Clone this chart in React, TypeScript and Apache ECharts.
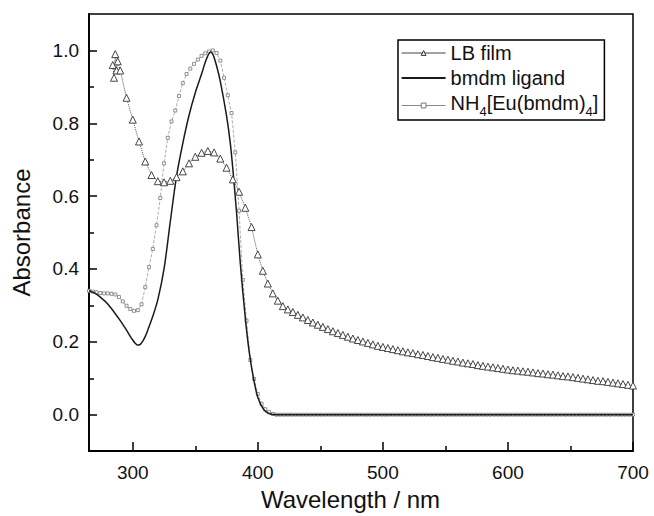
import React, { useEffect, useRef } from 'react';
import * as echarts from 'echarts';

const FONT = "'Liberation Sans', Arial, sans-serif";

const xTickLabels = [300, 400, 500, 600, 700];
const xMinorTicks = [350, 450, 550, 650];
const yTickLabels = [0, 0.2, 0.4, 0.6, 0.8, 1.0];
const yMinorTicks = [0.1, 0.3, 0.5, 0.7, 0.9];

const seriesNames = ['LB film', 'bmdm ligand', 'NH4[Eu(bmdm)4]'];

// LB film (triangles)
const lbFilm: [number, number][] = [
  [284, 0.96], [285, 0.925], [286, 0.99], [287, 0.945], [288, 0.97], [290, 0.945],
  [295, 0.87], [300, 0.81], [305, 0.75], [310, 0.695], [315, 0.658], [320, 0.641],
  [325, 0.638], [330, 0.642], [335, 0.652], [340, 0.668], [345, 0.69], [350, 0.708],
  [355, 0.719], [360, 0.724], [365, 0.72], [370, 0.703], [375, 0.678], [380, 0.646],
  [385, 0.612], [390, 0.568], [395, 0.515], [400, 0.44], [404, 0.395], [408, 0.36],
  [412, 0.333], [416, 0.313], [420, 0.298], [424, 0.289], [428, 0.282], [432, 0.274],
  [436, 0.267], [440, 0.26], [444, 0.253], [448, 0.247], [452, 0.241], [456, 0.235],
  [460, 0.229], [464, 0.224], [468, 0.219], [472, 0.214], [476, 0.209], [480, 0.205],
  [484, 0.201], [488, 0.197], [492, 0.193], [496, 0.189], [500, 0.186], [504, 0.183],
  [508, 0.18], [512, 0.177], [516, 0.174], [520, 0.171], [524, 0.169], [528, 0.166],
  [532, 0.164], [536, 0.161], [540, 0.158], [544, 0.156], [548, 0.153], [552, 0.151],
  [556, 0.148], [560, 0.146], [564, 0.143], [568, 0.141], [572, 0.139], [576, 0.136],
  [580, 0.134], [584, 0.132], [588, 0.13], [592, 0.128], [596, 0.126], [600, 0.124],
  [604, 0.122], [608, 0.121], [612, 0.119], [616, 0.118], [620, 0.116], [624, 0.114],
  [628, 0.113], [632, 0.111], [636, 0.11], [640, 0.108], [644, 0.106], [648, 0.105],
  [652, 0.103], [656, 0.101], [660, 0.099], [664, 0.097], [668, 0.095], [672, 0.093],
  [676, 0.092], [680, 0.09], [684, 0.088], [688, 0.086], [692, 0.084], [696, 0.082],
  [700, 0.08],
];

// bmdm ligand (solid line)
const ligand: [number, number][] = [
  [265, 0.34], [270, 0.333], [275, 0.32], [280, 0.304], [285, 0.282], [290, 0.258],
  [295, 0.232], [298, 0.215], [300, 0.205], [302, 0.196], [304, 0.191], [306, 0.193],
  [308, 0.202], [310, 0.215], [312, 0.232], [316, 0.27],
  [320, 0.315], [325, 0.4], [330, 0.53], [335, 0.655], [340, 0.745], [345, 0.822],
  [350, 0.884], [355, 0.935], [358, 0.968], [360, 0.985], [362, 0.996], [364, 0.99],
  [367, 0.958], [370, 0.915], [375, 0.82], [378, 0.745], [380, 0.675], [383, 0.555],
  [386, 0.415], [390, 0.265], [393, 0.175], [396, 0.11], [400, 0.047], [405, 0.013],
  [410, 0.002], [415, 0], [450, 0], [500, 0], [550, 0], [600, 0], [650, 0], [700, 0],
];

// NH4[Eu(bmdm)4] (small squares)
const complex: [number, number][] = [
  [265, 0.34], [268, 0.338], [271, 0.336], [274, 0.334], [277, 0.333], [280, 0.333],
  [283, 0.332], [286, 0.33], [289, 0.323], [292, 0.311], [295, 0.299], [298, 0.29],
  [301, 0.285], [304, 0.287], [307, 0.303], [310, 0.35], [313, 0.405], [316, 0.455],
  [319, 0.52], [322, 0.595], [325, 0.69], [328, 0.76], [331, 0.805], [334, 0.835],
  [337, 0.875], [340, 0.91], [343, 0.935], [346, 0.95], [349, 0.963], [352, 0.975],
  [355, 0.985], [358, 0.992], [361, 0.997], [364, 1.0], [367, 0.993], [370, 0.972],
  [373, 0.925], [376, 0.877], [379, 0.828], [382, 0.72], [385, 0.56], [388, 0.37],
  [391, 0.258], [394, 0.15], [397, 0.098], [400, 0.057], [403, 0.03], [406, 0.015],
  [409, 0.007], [412, 0.002], [415, 0], [418, 0], [421, 0], [424, 0], [427, 0],
  [430, 0], [433, 0], [436, 0], [439, 0], [442, 0], [445, 0], [448, 0], [451, 0],
  [454, 0], [457, 0], [460, 0], [463, 0], [466, 0], [469, 0], [472, 0], [475, 0],
  [478, 0], [481, 0], [484, 0], [487, 0], [490, 0], [493, 0], [496, 0], [499, 0],
  [502, 0], [505, 0], [508, 0], [511, 0], [514, 0], [517, 0], [520, 0], [523, 0],
  [526, 0], [529, 0], [532, 0], [535, 0], [538, 0], [541, 0], [544, 0], [547, 0],
  [550, 0], [553, 0], [556, 0], [559, 0], [562, 0], [565, 0], [568, 0], [571, 0],
  [574, 0], [577, 0], [580, 0], [583, 0], [586, 0], [589, 0], [592, 0], [595, 0],
  [598, 0], [601, 0], [604, 0], [607, 0], [610, 0], [613, 0], [616, 0], [619, 0],
  [622, 0], [625, 0], [628, 0], [631, 0], [634, 0], [637, 0], [640, 0], [643, 0],
  [646, 0], [649, 0], [652, 0], [655, 0], [658, 0], [661, 0], [664, 0], [667, 0],
  [670, 0], [673, 0], [676, 0], [679, 0], [682, 0], [685, 0], [688, 0], [691, 0],
  [694, 0], [697, 0], [700, 0],
];

export default function App() {
  const ref = useRef<HTMLDivElement>(null);

  useEffect(() => {
    if (!ref.current) return;
    const chart = echarts.init(ref.current, undefined, { renderer: 'svg' });
    const axisCommon = {
      type: 'value' as const,
      splitLine: { show: false },
    };
    chart.setOption({
      animation: false,
      backgroundColor: '#fff',
      textStyle: { fontFamily: FONT },
      grid: {
        left: 89, right: 21, top: 14, bottom: 57,
        show: true, borderColor: '#000', borderWidth: 1.5,
      },
      legend: {
        orient: 'vertical',
        left: 398,
        top: 40,
        itemWidth: 44,
        itemHeight: 6,
        itemGap: 5,
        padding: [3, 6, 2, 3],
        borderColor: '#000',
        borderWidth: 1.5,
        backgroundColor: '#fff',
        selectedMode: false,
        textStyle: {
          fontSize: 20,
          fontFamily: FONT,
          color: '#111',
          rich: {
            m: { fontSize: 20, fontFamily: FONT, color: '#111', verticalAlign: 'top' },
            s: { fontSize: 13, fontFamily: FONT, color: '#111', verticalAlign: 'top', padding: [12, 0, 0, 0] },
          },
        },
        formatter: (name: string) =>
          name === seriesNames[2] ? '{m|NH}{s|4}{m|[Eu(bmdm)}{s|4}{m|]}' : name,
        data: [
          {
            name: seriesNames[0],
            lineStyle: { type: 'solid', width: 1.2, color: '#444' },
            itemStyle: { color: '#fff', borderColor: '#333', borderWidth: 1 },
          },
          { name: seriesNames[1], icon: 'path://M0 0H44V2H0Z' },
          {
            name: seriesNames[2],
            lineStyle: { type: 'solid', width: 1.2, color: '#888' },
            itemStyle: { color: '#fff', borderColor: '#777', borderWidth: 1 },
          },
        ],
      },
      xAxis: [
        {
          ...axisCommon,
          min: 265,
          max: 700,
          position: 'bottom',
          name: 'Wavelength / nm',
          nameLocation: 'middle',
          nameGap: 29,
          nameTextStyle: { fontSize: 24, fontFamily: FONT, color: '#111', padding: [0, 21, 0, 0] },
          axisLine: { onZero: false, lineStyle: { color: '#000', width: 1.8 } },
          axisTick: { inside: true, length: 9, customValues: xTickLabels, lineStyle: { color: '#000', width: 1.5 } },
          axisLabel: { customValues: xTickLabels, margin: 12, fontSize: 19, fontFamily: FONT, color: '#111' },
        },
        {
          ...axisCommon,
          min: 265,
          max: 700,
          position: 'bottom',
          axisLine: { show: false, onZero: false },
          axisTick: { inside: true, length: 5, customValues: xMinorTicks, lineStyle: { color: '#000', width: 1.5 } },
          axisLabel: { show: false },
        },
      ],
      yAxis: [
        {
          ...axisCommon,
          min: -0.1,
          max: 1.1,
          position: 'left',
          name: 'Absorbance',
          nameLocation: 'middle',
          nameGap: 56,
          nameTextStyle: { fontSize: 24, fontFamily: FONT, color: '#111' },
          axisLine: { show: true, onZero: false, lineStyle: { color: '#000', width: 1.8 } },
          axisTick: { show: true, inside: true, length: 8, customValues: yTickLabels, lineStyle: { color: '#000', width: 1.5 } },
          axisLabel: {
            customValues: yTickLabels, margin: 10, fontSize: 19, fontFamily: FONT, color: '#111',
            formatter: (v: number) => v.toFixed(1),
          },
        },
        {
          ...axisCommon,
          min: -0.1,
          max: 1.1,
          position: 'left',
          axisLine: { show: false, onZero: false },
          axisTick: { show: true, inside: true, length: 5, customValues: yMinorTicks, lineStyle: { color: '#000', width: 1.5 } },
          axisLabel: { show: false },
        },
      ],
      series: [
        {
          name: seriesNames[1],
          type: 'line',
          data: ligand,
          symbol: 'none',
          smooth: 0.3,
          lineStyle: { color: '#1a1a1a', width: 1.5 },
          itemStyle: { color: '#1a1a1a' },
          z: 3,
        },
        {
          name: seriesNames[2],
          type: 'line',
          data: complex,
          symbol: 'rect',
          symbolSize: 3,
          lineStyle: { color: '#999', width: 0.8, type: 'dashed' },
          itemStyle: { color: '#fff', borderColor: '#777', borderWidth: 0.8 },
          z: 2,
        },
        {
          name: seriesNames[0],
          type: 'line',
          data: lbFilm,
          symbol: 'triangle',
          symbolSize: [7, 7],
          lineStyle: { color: '#555', width: 1, type: 'dotted' },
          itemStyle: { color: '#fff', borderColor: '#333', borderWidth: 0.9 },
          z: 4,
        },
      ],
    });
    return () => chart.dispose();
  }, []);

  return (
    <div
      ref={ref}
      style={{ position: 'fixed', left: 0, top: 0, width: 654, height: 516 }}
    />
  );
}
